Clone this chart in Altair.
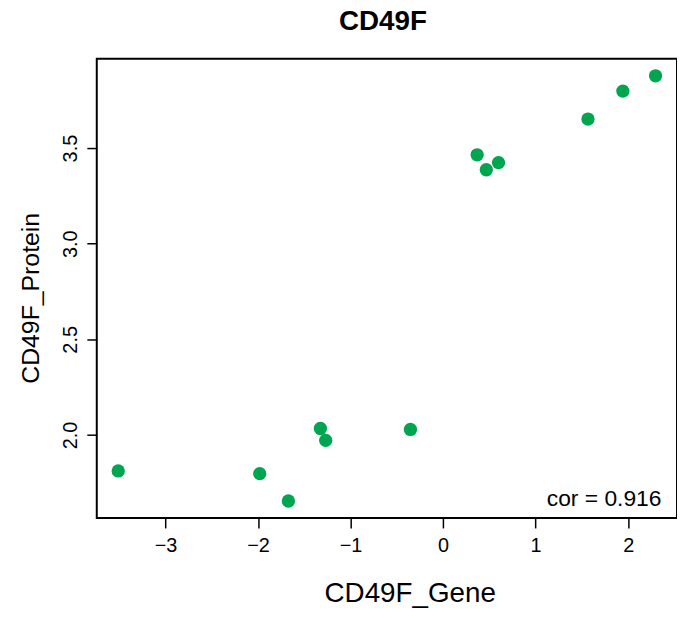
import altair as alt
import pandas as pd

gene = [-3.511, -1.982, -1.672, -1.326, -1.269, -0.353, 0.368, 0.467, 0.599, 1.566, 1.943, 2.296]
protein = [1.812, 1.798, 1.655, 2.034, 1.972, 2.029, 3.465, 3.387, 3.424, 3.652, 3.798, 3.878]
x_ticks = [-3, -2, -1, 0, 1, 2]
y_ticks = [2.0, 2.5, 3.0, 3.5]
cor_label = ["cor = 0.916"]
cor_pos_x = [2.36]
cor_pos_y = [1.63]

df = pd.DataFrame({"CD49F_Gene": gene, "CD49F_Protein": protein})
cor_df = pd.DataFrame({"label": cor_label, "x": cor_pos_x, "y": cor_pos_y})

FONT = "Liberation Sans"
xscale = alt.Scale(domain=[-3.743, 2.528], nice=False, zero=False)
yscale = alt.Scale(domain=[1.566, 3.967], nice=False, zero=False)

points = alt.Chart(df).mark_circle(size=180, opacity=1, color="#00A550").encode(
    x=alt.X("CD49F_Gene:Q", scale=xscale,
            axis=alt.Axis(values=x_ticks, format="d", domain=False, grid=False,
                          tickSize=10, tickWidth=1.5, tickColor="black",
                          labelFont=FONT, labelFontSize=20, labelColor="black",
                          labelPadding=8, labelBaseline="top",
                          title="CD49F_Gene", titleFont=FONT, titleFontSize=28,
                          titleFontWeight="normal", titleColor="black",
                          titleX=315.5, titleY=84, titleAlign="center",
                          titleBaseline="alphabetic")),
    y=alt.Y("CD49F_Protein:Q", scale=yscale,
            axis=alt.Axis(values=y_ticks, format=".1f", domain=False, grid=False,
                          tickSize=10, tickWidth=1.5, tickColor="black",
                          labelFont=FONT, labelFontSize=20, labelColor="black",
                          labelAngle=-90, labelAlign="center", labelBaseline="alphabetic",
                          labelPadding=10.5,
                          title="CD49F_Protein", titleFont=FONT, titleFontSize=25,
                          titleFontWeight="normal", titleColor="black",
                          titleAngle=-90, titleX=-59, titleY=241,
                          titleAlign="center", titleBaseline="alphabetic")),
)

cor_text = alt.Chart(cor_df).mark_text(
    font=FONT, fontSize=23, color="black", align="right", baseline="alphabetic"
).encode(
    x=alt.X("x:Q", scale=xscale),
    y=alt.Y("y:Q", scale=yscale),
    text="label:N",
)

chart = alt.layer(points, cor_text).properties(
    width=585,
    height=463,
    background="white",
    title=alt.TitleParams("CD49F", font=FONT, fontSize=28, fontWeight="bold",
                          color="black", anchor="middle", frame="group",
                          offset=23.5, dx=-4),
    autosize=alt.AutoSizeParams(type="none"),
    padding={"left": 89.5, "top": 48.7, "right": 0, "bottom": 100},
).configure_view(stroke="black", strokeWidth=2)

chart.save("out.html", embed_options={"renderer": "svg", "actions": False})
